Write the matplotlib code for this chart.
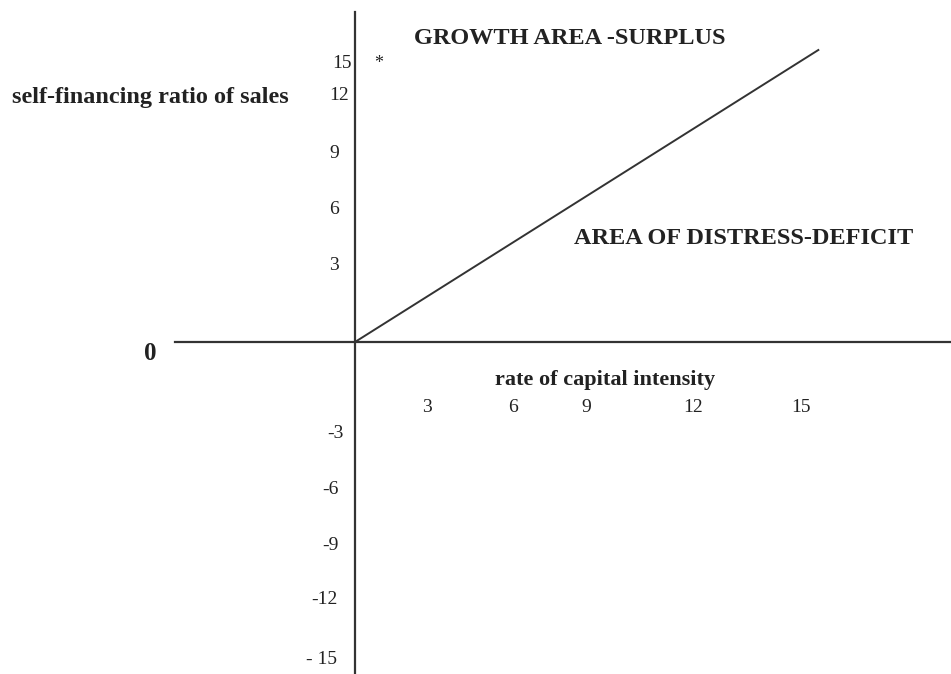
import matplotlib.pyplot as plt

plt.rcParams['font.family'] = ['Liberation Serif', 'DejaVu Serif']

# data
line_x = [0, 15.6]
line_y = [0, 14.6]
x_ticks = ['3', '6', '9', '12', '15']
y_ticks = ['15', '12', '9', '6', '3', '-3', '-6', '-9', '-12', '- 15']

# where the hand-placed labels sit (axis units)
x_tick_pos = [2.42, 5.32, 7.78, 11.38, 15.0]
y_tick_pos = [13.9, 12.3, 9.45, 6.6, 3.85, -4.55, -7.4, -10.2, -12.9, -15.85]
y_tick_right = [-0.12, -0.2, -0.55, -0.55, -0.55, -0.4, -0.55, -0.55, -0.6, -0.6]

fig = plt.figure(figsize=(9.51, 6.74), dpi=100)
ax = fig.add_axes([0, 0, 1, 1])
ax.set_xlim(-11.953, 20.067)
ax.set_ylim(-16.6, 17.1)
ax.axis('off')

axis_col = '#333333'
ax.plot([-6.06, 20.1], [0, 0], color=axis_col, lw=1.6)
ax.plot([0, 0], [-16.7, 16.5], color=axis_col, lw=1.6)
ax.plot(line_x, line_y, color=axis_col, lw=1.4)

for lab, x in zip(x_ticks, x_tick_pos):
    ax.text(x, -3.25, lab, ha='center', va='center', fontsize=14, color='#222222')
for lab, y, x in zip(y_ticks, y_tick_pos, y_tick_right):
    ax.text(x, y, lab, ha='right', va='center', fontsize=14, color='#222222')

ax.text(0.78, 13.95, '*', ha='center', va='center', fontsize=13, color='#222222')

ax.text(7.24, 15.2, 'GROWTH AREA -SURPLUS', ha='center', va='center',
        fontsize=17.5, fontweight='bold', color='#222222')
ax.text(-6.9, 12.2, 'self-financing ratio of sales', ha='center', va='center',
        fontsize=17.5, fontweight='bold', color='#222222')
ax.text(13.1, 5.2, 'AREA OF DISTRESS-DEFICIT', ha='center', va='center',
        fontsize=17.5, fontweight='bold', color='#222222')
ax.text(8.42, -1.9, 'rate of capital intensity', ha='center', va='center',
        fontsize=16, fontweight='bold', color='#222222')
ax.text(-6.9, -0.55, '0', ha='center', va='center',
        fontsize=18, fontweight='bold', color='#222222')

plt.savefig('out.png', dpi=100)
